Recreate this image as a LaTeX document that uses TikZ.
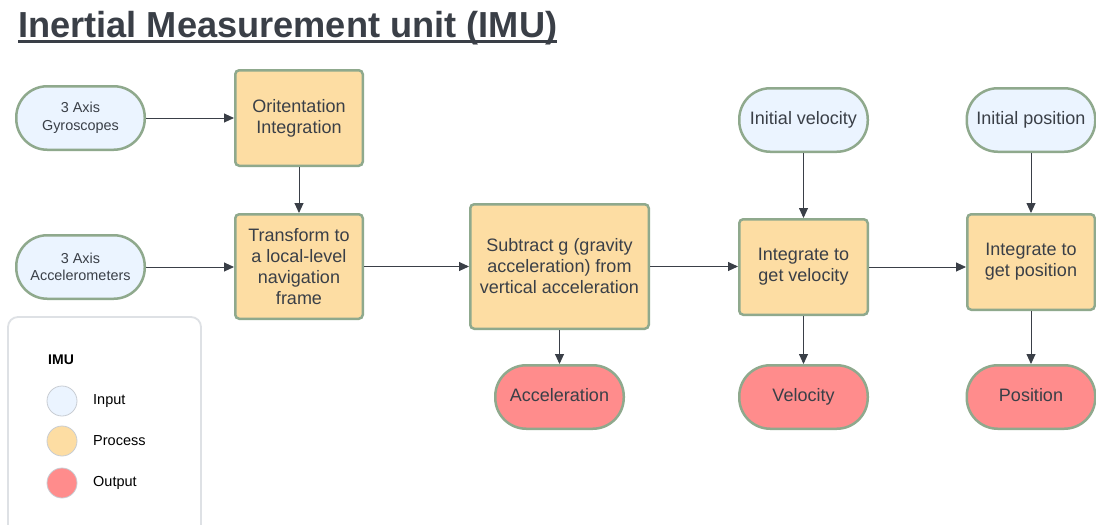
\documentclass[tikz,border=0pt]{standalone}
\usepackage{fontspec}
\setmainfont{Liberation Sans}
\usetikzlibrary{arrows.meta}
\definecolor{ink}{HTML}{3A3F47}
\definecolor{edge}{HTML}{8FA98D}
\definecolor{infill}{HTML}{EBF4FF}
\definecolor{procfill}{HTML}{FDDDA3}
\definecolor{outfill}{HTML}{FF8C8C}
\definecolor{legendline}{HTML}{DEE1E5}
\definecolor{dotline}{HTML}{C8CDD3}

\begin{document}
\begin{tikzpicture}[x=1pt,y=-1pt,
  pill/.style={draw=edge, line width=2.5pt, rounded corners=31pt,
    minimum width=128.5pt, minimum height=63.5pt, inner sep=0pt,
    align=center, text=ink},
  inputnode/.style={pill, fill=infill},
  outputnode/.style={pill, fill=outfill, font=\fontsize{18}{21}\selectfont,
    text height=13pt, text depth=4pt},
  procnode/.style={draw=edge, line width=2.5pt, rounded corners=4pt,
    fill=procfill, inner sep=0pt, align=center, text=ink,
    font=\fontsize{18}{21}\selectfont},
  flow/.style={draw=ink, line width=0.9pt, -{Triangle[length=10pt,width=9pt]}},
  keydot/.style={circle, draw=dotline, line width=0.8pt, minimum size=30pt, inner sep=0pt},
  keytext/.style={anchor=west, inner sep=0pt, text=black, font=\fontsize{14.5}{17}\selectfont}]

\clip (0,0) rectangle (1096,525);
\fill[white] (0,0) rectangle (1096,525);

% Title
\node[anchor=base west, inner sep=0pt, text=ink,
      font=\fontsize{36.2}{40}\bfseries\selectfont] (title) at (18,37)
  {Inertial Measurement unit (IMU)};
\draw[ink, line width=3pt] ([yshift=-4.5pt]title.base west) -- ([yshift=-4.5pt]title.base east);

% Inputs
\node[inputnode, font=\fontsize{14.4}{17.5}\selectfont] (gyro) at (80.5,118) {3 Axis\\Gyroscopes};
\node[inputnode, font=\fontsize{14.4}{17.5}\selectfont] (acc) at (80.5,267) {3 Axis\\Accelerometers};
\node[inputnode, font=\fontsize{18}{21}\selectfont] (ivel) at (803.5,120) {Initial velocity};
\node[inputnode, font=\fontsize{18}{21}\selectfont] (ipos) at (1031,120) {Initial position};

% Processing steps
\node[procnode, minimum width=127.5pt, minimum height=95.5pt] (orient) at (299,118) {Oritentation\\Integration};
\node[procnode, minimum width=127.5pt, minimum height=104.5pt] (trans) at (299,266.5) {Transform to\\a local-level\\navigation\\frame};
\node[procnode, minimum width=178.5pt, minimum height=124.5pt] (subg) at (559.5,266.5) {Subtract g (gravity\\acceleration) from\\vertical acceleration};
\node[procnode, minimum width=128.5pt, minimum height=95.5pt] (intv) at (803.5,267) {Integrate to\\get velocity};
\node[procnode, minimum width=127.5pt, minimum height=95.5pt] (intp) at (1031,262) {Integrate to\\get position};

% Outputs
\node[outputnode] (oacc) at (559.5,397) {Acceleration};
\node[outputnode] (ovel) at (803.5,397) {Velocity};
\node[outputnode] (opos) at (1031,397) {Position};

% Flow
\draw[flow] (gyro.east) -- (orient.west);
\draw[flow] (orient.south) -- (trans.north);
\draw[flow] (acc.east) -- (acc.east -| trans.west);
\draw[flow] (trans.east) -- (trans.east -| subg.west);
\draw[flow] (subg.east) -- (subg.east -| intv.west);
\draw[flow] (intv.east) -- (intv.east -| intp.west);
\draw[flow] (subg.south) -- (oacc.north);
\draw[flow] (ivel.south) -- (intv.north);
\draw[flow] (intv.south) -- (ovel.north);
\draw[flow] (ipos.south) -- (intp.north);
\draw[flow] (intp.south) -- (opos.north);

% Legend
\draw[legendline, line width=1.8pt, rounded corners=10pt] (8,317) rectangle (201,545);
\node[anchor=west, inner sep=0pt, font=\fontsize{14}{17}\bfseries\selectfont] (keyhead) at (48,360) {IMU};
\node[keydot, fill=infill] (kin) at (62,401) {};
\node[keydot, fill=procfill] (kproc) at (62,441) {};
\node[keydot, fill=outfill] (kout) at (62,483) {};
\node[keytext] (tin) at (93,401) {Input};
\node[keytext] (tproc) at (93,441) {Process};
\node[keytext] (tout) at (93,483) {Output};
\end{tikzpicture}
\end{document}
